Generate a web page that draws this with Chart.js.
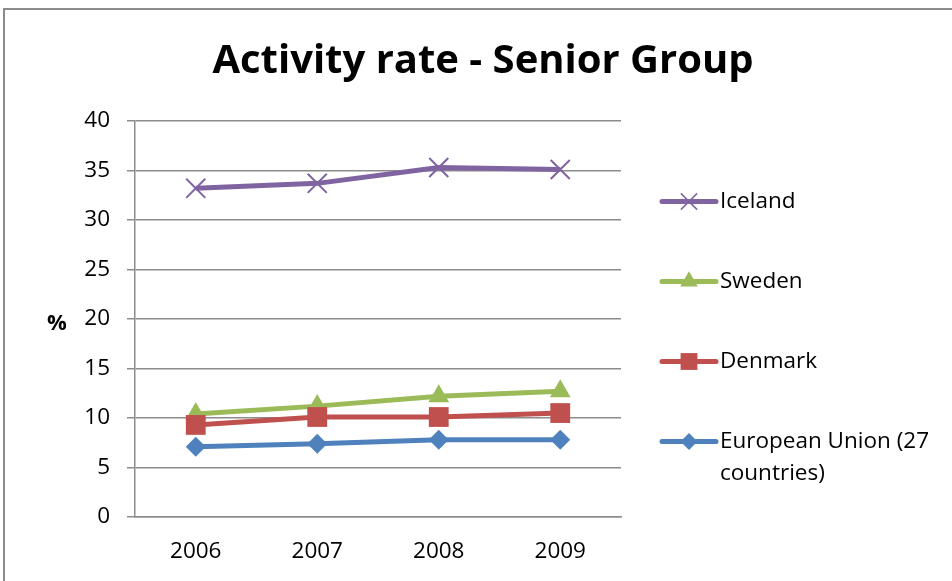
<!DOCTYPE html>
<html>
<head>
<meta charset="utf-8">
<title>Activity rate - Senior Group</title>
<script src="https://cdn.jsdelivr.net/npm/chart.js@4.4.0/dist/chart.umd.min.js"></script>
<style>
  html, body { margin: 0; padding: 0; background: #ffffff; }
  canvas { display: block; }
</style>
</head>
<body>
<canvas id="chart" width="952" height="581"></canvas>
<script>
// Activity rate (%) of the senior age group, 2006-2009
const years = ['2006', '2007', '2008', '2009'];
const iceland = [33.2, 33.7, 35.3, 35.1];
const sweden = [10.4, 11.2, 12.2, 12.7];
const denmark = [9.3, 10.1, 10.1, 10.5];
const euroUnion = [7.1, 7.4, 7.8, 7.8];
const yTicks = [0, 5, 10, 15, 20, 25, 30, 35, 40];

const chartTitle = 'Activity rate - Senior Group';
const yAxisLabel = '%';
const FONT = '"Open Sans", "Liberation Sans", sans-serif';

// Legend entries, top to bottom; labels may span two lines
const legendItems = [
  { dataset: 3, lines: ['Iceland'] },
  { dataset: 2, lines: ['Sweden'] },
  { dataset: 1, lines: ['Denmark'] },
  { dataset: 0, lines: ['European Union (27', 'countries)'] }
];

const frameAndLabels = {
  id: 'frameAndLabels',
  beforeDraw(chart) {
    const ctx = chart.ctx;
    ctx.save();
    ctx.fillStyle = '#ffffff';
    ctx.fillRect(0, 0, chart.width, chart.height);
    // outer frame of the chart object
    ctx.strokeStyle = '#8c8c8c';
    ctx.lineWidth = 2;
    ctx.strokeRect(4, 9, chart.width + 20, chart.height + 20);
    ctx.restore();
  },
  afterDraw(chart) {
    const ctx = chart.ctx;
    ctx.save();
    // title
    ctx.fillStyle = '#000000';
    ctx.font = 'bold 40px ' + FONT;
    ctx.textAlign = 'center';
    ctx.textBaseline = 'alphabetic';
    ctx.fillText(chartTitle, 483, 73);

    // y axis caption
    ctx.font = 'bold 22px ' + FONT;
    ctx.textBaseline = 'middle';
    ctx.fillText(yAxisLabel, 57, 324);

    // legend
    const lineX0 = 662, lineX1 = 716, textX = 720;
    const y0 = 201.5, step = 80, lineGap = 32;
    ctx.font = '22.5px ' + FONT;
    ctx.textAlign = 'left';
    legendItems.forEach((item, i) => {
      const ds = chart.data.datasets[item.dataset];
      const y = y0 + i * step;
      ctx.strokeStyle = ds.borderColor;
      ctx.lineWidth = 5;
      ctx.lineCap = 'round';
      ctx.beginPath();
      ctx.moveTo(lineX0, y);
      ctx.lineTo(lineX1, y);
      ctx.stroke();
      ctx.fillStyle = ds.pointBackgroundColor;
      ctx.strokeStyle = ds.pointBorderColor;
      ctx.lineCap = 'butt';
      const markerBorder = ds.pointStyle === 'crossRot' ? 1.5 : 0;
      ctx.lineWidth = markerBorder;
      Chart.helpers.drawPoint(ctx, {
        pointStyle: ds.pointStyle,
        radius: ds.pointRadius * 0.85,
        borderWidth: markerBorder,
        rotation: 0
      }, (lineX0 + lineX1) / 2, y);
      ctx.fillStyle = '#000000';
      item.lines.forEach((t, k) => ctx.fillText(t, textX, y + k * lineGap));
    });
    ctx.restore();
  }
};

const series = (label, data, color, style, radius, filled) => ({
  label,
  data,
  borderColor: color,
  backgroundColor: color,
  borderWidth: 5,
  tension: 0,
  pointStyle: style,
  pointRadius: radius,
  pointHoverRadius: radius,
  pointBackgroundColor: filled ? color : 'rgba(0,0,0,0)',
  pointBorderColor: color,
  pointBorderWidth: filled ? 0 : 2
});

new Chart(document.getElementById('chart'), {
  type: 'line',
  data: {
    labels: years,
    datasets: [
      series('European Union (27 countries)', euroUnion, '#4F81BD', 'rectRot', 10, true),
      series('Denmark', denmark, '#C0504D', 'rect', 14, true),
      series('Sweden', sweden, '#9BBB59', 'triangle', 12, true),
      series('Iceland', iceland, '#8064A2', 'crossRot', 13.5, false)
    ]
  },
  options: {
    responsive: false,
    animation: false,
    layout: { padding: { top: 121, right: 331, left: 0, bottom: 0 } },
    plugins: {
      legend: { display: false },
      title: { display: false },
      tooltip: { enabled: false }
    },
    scales: {
      x: {
        offset: true,
        grid: { display: false, drawTicks: false },
        border: { display: true, color: '#8c8c8c', width: 1.5 },
        ticks: { color: '#000000', font: { family: FONT, size: 22.5 }, padding: 21 },
        afterFit(scale) { scale.height = 64; }
      },
      y: {
        min: 0,
        max: 40,
        afterBuildTicks(scale) { scale.ticks = yTicks.map(v => ({ value: v })); },
        grid: { color: '#8c8c8c', lineWidth: 1.5, tickLength: 8 },
        border: { display: true, color: '#8c8c8c', width: 1.5 },
        ticks: { color: '#000000', font: { family: FONT, size: 22.5 }, padding: 17 },
        afterFit(scale) { scale.width = 135; }
      }
    }
  },
  plugins: [frameAndLabels]
});
</script>
</body>
</html>
